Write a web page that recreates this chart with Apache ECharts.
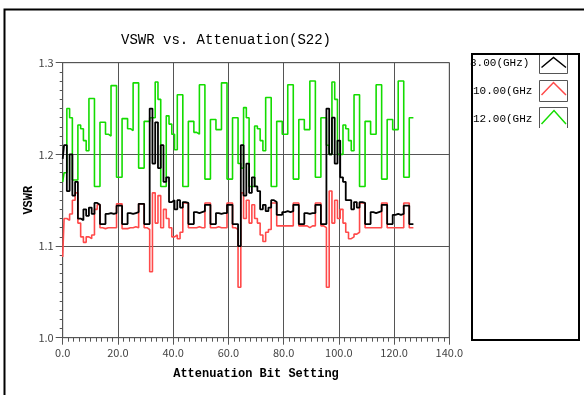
<!DOCTYPE html>
<html>
<head>
<meta charset="utf-8">
<script src="https://cdn.jsdelivr.net/npm/echarts@6/dist/echarts.min.js"></script>
<style>html,body{margin:0;padding:0;background:#fff;}#c{width:584px;height:395px;}</style>
</head>
<body>
<div id="c"></div>
<script>
// Attenuation states 0..127 (x), VSWR values
const vswr8GHz = [
 1.195,1.21,1.16,1.2,1.155,1.17,1.13,1.128,1.14,1.133,1.142,1.135,1.147,1.145,1.124,1.124,
 1.135,1.136,1.135,1.136,1.144,1.144,1.124,1.124,1.136,1.135,1.136,1.137,1.146,1.146,1.124,1.124,
 1.25,1.19,1.235,1.185,1.21,1.17,1.175,1.148,1.15,1.14,1.15,1.142,1.148,1.147,1.124,1.124,
 1.137,1.136,1.137,1.138,1.145,1.145,1.124,1.124,1.136,1.135,1.136,1.136,1.145,1.145,1.124,1.124,
 1.10,1.21,1.155,1.19,1.158,1.175,1.165,1.16,1.14,1.145,1.138,1.142,1.15,1.148,1.134,1.134,
 1.137,1.138,1.137,1.138,1.145,1.145,1.124,1.124,1.136,1.135,1.136,1.136,1.145,1.145,1.124,1.124,
 1.25,1.2,1.24,1.19,1.215,1.175,1.17,1.15,1.15,1.14,1.148,1.142,1.148,1.147,1.124,1.124,
 1.137,1.136,1.137,1.138,1.145,1.145,1.124,1.124,1.134,1.135,1.134,1.135,1.144,1.144,1.124,1.124
];
const vswr10GHz = [
 1.088,1.13,1.128,1.135,1.15,1.158,1.125,1.11,1.104,1.11,1.108,1.112,1.14,1.145,1.12,1.119,
 1.12,1.12,1.12,1.12,1.146,1.146,1.119,1.119,1.12,1.12,1.121,1.12,1.146,1.146,1.12,1.118,
 1.072,1.158,1.125,1.155,1.12,1.14,1.13,1.12,1.11,1.112,1.108,1.115,1.147,1.147,1.12,1.12,
 1.12,1.121,1.12,1.12,1.147,1.147,1.12,1.12,1.121,1.12,1.12,1.12,1.147,1.147,1.12,1.118,
 1.055,1.158,1.13,1.15,1.125,1.145,1.13,1.125,1.112,1.105,1.115,1.118,1.147,1.147,1.122,1.122,
 1.122,1.122,1.122,1.122,1.147,1.147,1.122,1.122,1.122,1.12,1.122,1.122,1.147,1.147,1.122,1.12,
 1.055,1.16,1.125,1.15,1.13,1.14,1.125,1.115,1.108,1.11,1.113,1.115,1.147,1.147,1.12,1.12,
 1.12,1.12,1.12,1.12,1.147,1.147,1.12,1.12,1.12,1.12,1.12,1.12,1.147,1.147,1.12,1.12
];
const vswr12GHz = [
 1.17,1.18,1.25,1.24,1.172,1.172,1.232,1.228,1.215,1.204,1.261,1.261,1.165,1.165,1.235,1.235,
 1.222,1.22,1.275,1.275,1.175,1.175,1.239,1.239,1.228,1.226,1.278,1.278,1.185,1.185,1.236,1.236,
 1.24,1.24,1.279,1.26,1.165,1.165,1.242,1.233,1.222,1.205,1.265,1.265,1.165,1.165,1.236,1.236,
 1.224,1.222,1.276,1.276,1.173,1.173,1.238,1.238,1.227,1.227,1.278,1.278,1.173,1.173,1.24,1.24,
 1.19,1.185,1.251,1.24,1.165,1.165,1.231,1.228,1.215,1.204,1.262,1.262,1.165,1.165,1.236,1.236,
 1.222,1.222,1.276,1.276,1.173,1.173,1.238,1.238,1.227,1.227,1.28,1.28,1.175,1.175,1.24,1.24,
 1.21,1.2,1.279,1.26,1.2,1.2,1.232,1.228,1.215,1.204,1.265,1.265,1.165,1.165,1.236,1.236,
 1.222,1.222,1.276,1.276,1.173,1.173,1.238,1.238,1.227,1.227,1.28,1.28,1.175,1.175,1.24,1.24
];
const seriesNames = ['8.00(GHz)', '10.00(GHz', '12.00(GHz'];
const seriesColors = ['#000000', '#ff4a4a', '#14dc00'];
const xTicks = [0, 20, 40, 60, 80, 100, 120, 140];
const yTicks = [1.0, 1.1, 1.2, 1.3];

function pairs(arr) { return arr.map((v, i) => [i, v]); }

const chart = echarts.init(document.getElementById('c'), null, {renderer: 'canvas'});
const gridColor = '#555';
const labelFont = 'Noto Sans CJK SC';

const legendRows = [
  {y: 63.5, box: [539.5, 53.5, 28, 20], chev: [[541.5, 67.5], [553.5, 57.5], [566, 67.5]]},
  {y: 91.5, box: [539.5, 80.5, 28, 21], chev: [[541.5, 95], [553.5, 82.5], [566, 95]]},
  {y: 119, box: null, chev: [[541.5, 124], [554, 110.5], [566, 124]]}
];
const graphics = [
  {type: 'polyline', shape: {points: [[4.5, 400], [4.5, 9.5], [600, 9.5]]}, style: {stroke: '#000', lineWidth: 2, fill: null}, z: 10},
  {type: 'text', x: 226, y: 40, style: {text: 'VSWR vs. Attenuation(S22)', font: '14px "Liberation Mono"', fill: '#000', textAlign: 'center', textVerticalAlign: 'middle'}, z: 10},
  {type: 'rect', shape: {x: 472, y: 54, width: 107, height: 286}, style: {fill: '#fff', stroke: null}, z: 9}
];
legendRows.forEach((r, i) => {
  graphics.push({type: 'text', x: i === 0 ? 470 : 473, y: r.y, style: {text: seriesNames[i], font: '11px "Liberation Mono"', fill: '#000', textAlign: 'left', textVerticalAlign: 'middle'}, z: 10});
  if (r.box) {
    graphics.push({type: 'rect', shape: {x: r.box[0], y: r.box[1], width: r.box[2], height: r.box[3]}, style: {fill: '#fff', stroke: '#555', lineWidth: 1}, z: 10});
  } else {
    graphics.push({type: 'rect', shape: {x: 539.5, y: 107.5, width: 28, height: 21}, style: {fill: '#fff', stroke: null}, z: 10});
    graphics.push({type: 'polyline', shape: {points: [[539.5, 128], [539.5, 107.5], [567.5, 107.5], [567.5, 128]]}, style: {fill: null, stroke: '#555', lineWidth: 1}, z: 10});
  }
  graphics.push({type: 'polyline', shape: {points: r.chev}, style: {fill: null, stroke: seriesColors[i], lineWidth: 1.5}, z: 10});
});
graphics.push({type: 'rect', shape: {x: 472, y: 54, width: 107, height: 286}, style: {fill: null, stroke: '#000', lineWidth: 2}, z: 11});

chart.setOption({
  animation: false,
  backgroundColor: '#fff',
  grid: {left: 62.7, top: 62.7, width: 386.6, height: 275, show: true, borderColor: gridColor, borderWidth: 1, backgroundColor: 'transparent'},
  xAxis: {
    type: 'value', min: xTicks[0], max: xTicks[xTicks.length - 1], interval: 20,
    name: 'Attenuation Bit Setting', nameLocation: 'middle', nameGap: 30, nameMoveOverlap: false,
    nameTextStyle: {fontFamily: 'Liberation Mono', fontWeight: 'bold', fontSize: 12, color: '#000'},
    axisLine: {show: true, lineStyle: {color: gridColor, width: 1}},
    axisTick: {show: true, inside: false, length: 7, lineStyle: {color: gridColor}},
    minorTick: {show: true, splitNumber: 10, length: 4, lineStyle: {color: gridColor}},
    splitLine: {show: true, lineStyle: {color: gridColor, width: 1}},
    axisLabel: {margin: 10, fontFamily: labelFont, fontSize: 11, color: '#444', formatter: v => v.toFixed(1)}
  },
  yAxis: {
    type: 'value', min: yTicks[0], max: yTicks[yTicks.length - 1], interval: 0.1,
    name: 'VSWR', nameLocation: 'middle', nameGap: 28, nameRotate: 90, nameMoveOverlap: false,
    nameTextStyle: {fontFamily: 'Liberation Mono', fontWeight: 'bold', fontSize: 12, color: '#000'},
    axisLine: {show: true, lineStyle: {color: gridColor, width: 1}},
    axisTick: {show: true, inside: false, length: 7, lineStyle: {color: gridColor}},
    minorTick: {show: true, splitNumber: 10, length: 3, lineStyle: {color: gridColor}},
    splitLine: {show: true, lineStyle: {color: gridColor, width: 1}},
    axisLabel: {margin: 9, fontFamily: labelFont, fontSize: 11, color: '#444', formatter: v => v.toFixed(1)}
  },
  series: [
    {name: seriesNames[2], type: 'line', step: 'middle', data: pairs(vswr12GHz), showSymbol: false, lineStyle: {color: seriesColors[2], width: 1.6}, z: 2},
    {name: seriesNames[1], type: 'line', step: 'middle', data: pairs(vswr10GHz), showSymbol: false, lineStyle: {color: seriesColors[1], width: 1.6}, z: 3},
    {name: seriesNames[0], type: 'line', step: 'middle', data: pairs(vswr8GHz), showSymbol: false, lineStyle: {color: seriesColors[0], width: 1.8}, z: 4}
  ],
  graphic: graphics
});
</script>
</body>
</html>
